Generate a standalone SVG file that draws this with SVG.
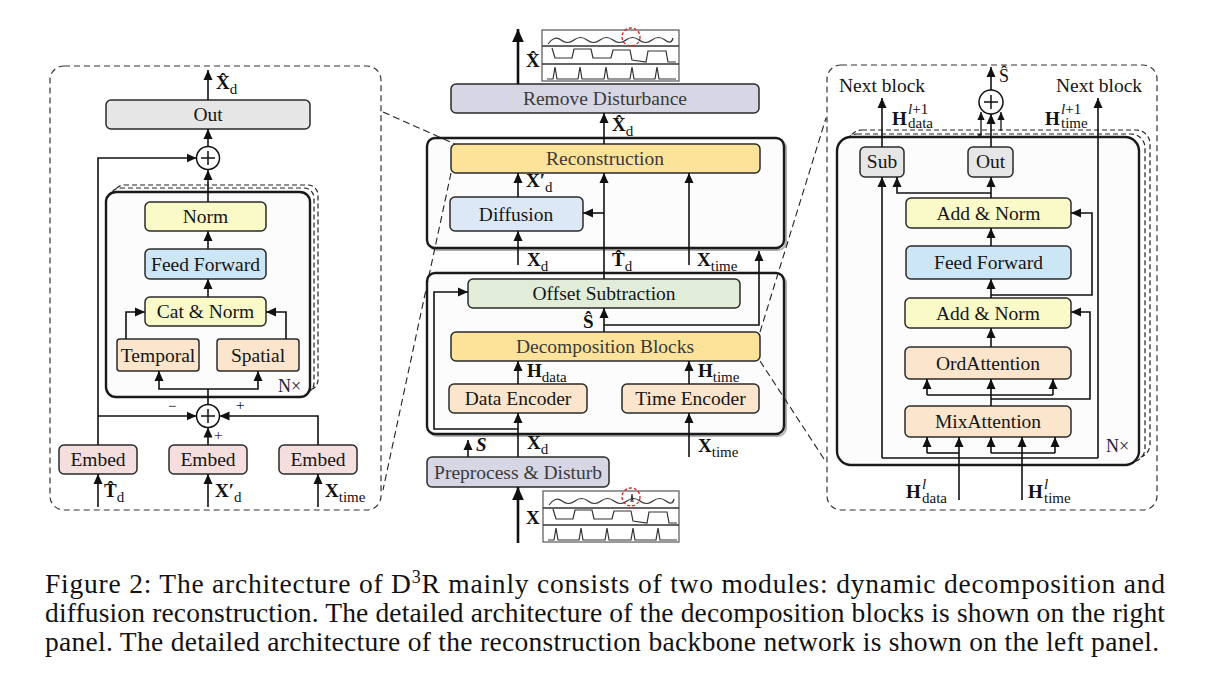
<svg xmlns="http://www.w3.org/2000/svg" width="1207" height="680" viewBox="0 0 1207 680">
<defs>
<marker id="ah" viewBox="0 0 10 10" refX="10" refY="5" markerWidth="10" markerHeight="10" markerUnits="userSpaceOnUse" orient="auto"><path d="M0,0.5 L10,5 L0,9.5 z" fill="#111"/></marker>
<marker id="ahb" viewBox="0 0 10 10" refX="10" refY="5" markerWidth="14" markerHeight="13" markerUnits="userSpaceOnUse" orient="auto"><path d="M0,0.5 L10,5 L0,9.5 z" fill="#111"/></marker>
<marker id="ahs" viewBox="0 0 10 10" refX="10" refY="5" markerWidth="8" markerHeight="8" markerUnits="userSpaceOnUse" orient="auto"><path d="M0,0.5 L10,5 L0,9.5 z" fill="#111"/></marker>
<style>
.frame{fill:none;stroke:#333;stroke-width:1.2;stroke-dasharray:6,4}
.blk{fill:#fcfcfc;stroke:#1a1a1a;stroke-width:2.4}
.shd{fill:none;stroke:#b0b0b0;stroke-width:2}
.stk{fill:none;stroke:#222;stroke-width:1.2;stroke-dasharray:5,3}
.box{stroke:#2a2a2a;stroke-width:1.5}
.gray{fill:#e6e6e6}.yel{fill:#fafac8}.blue{fill:#cde6f5}.peach{fill:#fbe5cc}.pink{fill:#f5dede}.lav{fill:#d6d6e4}.gold{fill:#fde39a}.lblue{fill:#dde8f6}.green{fill:#e1edd9}
.t{font-family:"Liberation Serif","Times New Roman",serif;font-size:19.5px;fill:#151515;text-anchor:middle}
.td{fill:#3a3a3a}
.m{font-family:"Liberation Serif","Times New Roman",serif;font-size:19px;fill:#111;font-weight:bold}
.s{font-size:15px;font-weight:normal}
.c{fill:none;stroke:#111;stroke-width:1.6}
.ca{fill:none;stroke:#111;stroke-width:1.6;marker-end:url(#ah)}
.cb{fill:none;stroke:#111;stroke-width:2.6;marker-end:url(#ahb)}
.cs{fill:none;stroke:#111;stroke-width:1.3;marker-end:url(#ahs)}
.dl{fill:none;stroke:#222;stroke-width:1.1;stroke-dasharray:7,4}
.op{fill:#fff;stroke:#111;stroke-width:1.5}
.wv{fill:none;stroke:#333;stroke-width:1.2}
.cap{font-family:"Liberation Serif","Times New Roman",serif;font-size:27.5px;fill:#111}
</style>
</defs>
<rect width="1207" height="680" fill="#fff"/>

<!-- LEFT PANEL -->
<g id="left-panel">
<rect class="frame" x="50" y="66" width="331" height="444" rx="14"/>
<rect class="stk" x="114" y="185" width="204" height="205" rx="10"/>
<rect class="stk" x="110" y="188" width="204" height="205" rx="10"/>
<rect class="blk" x="106" y="192" width="204" height="205" rx="10"/>
<text x="278" y="392" font-family="Liberation Serif, serif" font-size="18" fill="#1a1a3a">N×</text>
</g>
<g id="L-out"><rect class="box gray" x="106" y="100" width="204" height="29" rx="5"/><text class="t" x="208" y="121">Out</text></g>
<g id="L-plus1"><circle class="op" cx="208" cy="158" r="11.5"/><path d="M201,158 H215 M208,151 V165" stroke="#111" stroke-width="1.5"/></g>
<g id="L-norm"><rect class="box yel" x="145" y="202" width="121" height="29" rx="5"/><text class="t" x="205.5" y="223">Norm</text></g>
<g id="L-ff"><rect class="box blue" x="145" y="249" width="121" height="30" rx="5"/><text class="t" x="205.5" y="271">Feed Forward</text></g>
<g id="L-cat"><rect class="box yel" x="145" y="297" width="121" height="29" rx="5"/><text class="t" x="205.5" y="318">Cat &amp; Norm</text></g>
<g id="L-temporal"><rect class="box peach" x="117" y="339" width="82" height="32" rx="3"/><text class="t" x="158" y="362">Temporal</text></g>
<g id="L-spatial"><rect class="box peach" x="217" y="339" width="82" height="32" rx="3"/><text class="t" x="258" y="362">Spatial</text></g>
<g id="L-plus2"><circle class="op" cx="208" cy="416" r="11.5"/><path d="M201,416 H215 M208,409 V423" stroke="#111" stroke-width="1.5"/></g>
<g id="L-embed1"><rect class="box pink" x="59" y="445" width="78" height="29" rx="5"/><text class="t" x="98" y="466">Embed</text></g>
<g id="L-embed2"><rect class="box pink" x="169" y="445" width="78" height="29" rx="5"/><text class="t" x="208" y="466">Embed</text></g>
<g id="L-embed3"><rect class="box pink" x="279" y="445" width="78" height="29" rx="5"/><text class="t" x="318" y="466">Embed</text></g>

<!-- CENTER -->
<g id="C-wave-top">
<rect x="542" y="30" width="137" height="51" fill="#fff" stroke="#555" stroke-width="1.2"/>
<path d="M542,46 H679 M542,64 H679" stroke="#333" stroke-width="1.5"/>
<path class="wv" d="M548,44 q6.5,-9 13,-4 t13,0 t13,0 t13,0 t13,0 t13,0 t13,0 t13,0 t13,0 t8,-2"/>
<path class="wv" d="M552,48 L555,58 H572 L574,49 H591 L593,58 H611 L613,50 H630 L632,60 L646,62 L648,51 H666 L668,62 H676"/>
<path class="wv" d="M547,79 H553 L555,67 L557,79 H578 L580,67 L582,79 H604 L606,67 L608,79 H630 L632,67 L634,79 H655 L657,67 L659,79 H676"/>
<circle cx="631" cy="37" r="9" fill="none" stroke="#e02020" stroke-width="1.3" stroke-dasharray="3,2"/>
</g>
<g id="C-remove"><rect class="box lav" x="451" y="84" width="308" height="29" rx="5"/><text class="t td" x="605" y="105">Remove Disturbance</text></g>
<g id="C-recon-block">
<rect class="shd" x="429" y="140" width="357" height="110" rx="8"/>
<rect class="blk" x="427" y="138" width="357" height="110" rx="8"/>
</g>
<g id="C-reconstruction"><rect class="box gold" x="451" y="144" width="309" height="29" rx="5"/><text class="t td" x="605" y="165">Reconstruction</text></g>
<g id="C-diffusion"><rect class="box lblue" x="450" y="197" width="133" height="34" rx="5"/><text class="t" x="516" y="221">Diffusion</text></g>
<g id="C-decomp-block">
<rect class="shd" x="429" y="275" width="357" height="161" rx="8"/>
<rect class="blk" x="427" y="273" width="357" height="161" rx="8"/>
</g>
<g id="C-offset"><rect class="box green" x="468" y="279" width="272" height="29" rx="5"/><text class="t" x="604" y="300">Offset Subtraction</text></g>
<g id="C-decomposition"><rect class="box gold" x="451" y="332" width="309" height="29" rx="5"/><text class="t td" x="605" y="353">Decomposition Blocks</text></g>
<g id="C-data-enc"><rect class="box peach" x="449" y="384" width="138" height="29" rx="5"/><text class="t" x="518" y="405">Data Encoder</text></g>
<g id="C-time-enc"><rect class="box peach" x="622" y="384" width="137" height="29" rx="5"/><text class="t" x="690.5" y="405">Time Encoder</text></g>
<g id="C-preprocess"><rect class="box lav" x="427" y="457" width="182" height="30" rx="5"/><text class="t td" x="518" y="479">Preprocess &amp; Disturb</text></g>
<g id="C-wave-bottom">
<rect x="543" y="491" width="136" height="51" fill="#fff" stroke="#555" stroke-width="1.2"/>
<path d="M543,508 H679 M543,525 H679" stroke="#333" stroke-width="1.5"/>
<path class="wv" d="M549,505 q6.5,-9 13,-4 t13,0 t13,0 t13,0 t13,0 t13,0 t13,0 t13,0 t13,0 t8,-2"/>
<path class="wv" d="M631,502 L632,494 L633,502"/>
<path class="wv" d="M553,509 L556,519 H573 L575,510 H592 L594,519 H612 L614,511 H631 L633,521 L647,523 L649,512 H667 L669,523 H677"/>
<path class="wv" d="M548,540 H554 L556,528 L558,540 H579 L581,528 L583,540 H605 L607,528 L609,540 H631 L633,528 L635,540 H656 L658,528 L660,540 H677"/>
<circle cx="631" cy="497" r="9" fill="none" stroke="#e02020" stroke-width="1.3" stroke-dasharray="3,2"/>
</g>

<!-- RIGHT PANEL -->
<g id="right-panel">
<rect class="frame" x="827" y="65" width="330" height="445" rx="14"/>
<rect class="stk" x="848" y="130" width="302" height="328" rx="14"/>
<rect class="stk" x="843" y="134" width="302" height="328" rx="14"/>
<rect class="blk" x="837" y="137" width="302" height="328" rx="14"/>
<text x="1106" y="452" font-family="Liberation Serif, serif" font-size="18" fill="#1a1a3a">N×</text>
<text class="t" x="882" y="92">Next block</text>
<text class="t" x="1099" y="92">Next block</text>
</g>
<g id="R-plus"><circle class="op" cx="991" cy="102" r="12"/><path d="M984,102 H998 M991,95 V109" stroke="#111" stroke-width="1.5"/></g>
<g id="R-sub"><rect class="box gray" x="860" y="147" width="44" height="30" rx="5"/><text class="t" x="882" y="168">Sub</text></g>
<g id="R-out"><rect class="box gray" x="968" y="147" width="45" height="30" rx="5"/><text class="t" x="990.5" y="168">Out</text></g>
<g id="R-addnorm1"><rect class="box yel" x="906" y="198" width="165" height="30" rx="5"/><text class="t" x="988.5" y="220">Add &amp; Norm</text></g>
<g id="R-ff"><rect class="box blue" x="906" y="246" width="165" height="33" rx="5"/><text class="t" x="988.5" y="269">Feed Forward</text></g>
<g id="R-addnorm2"><rect class="box yel" x="905" y="298" width="166" height="30" rx="5"/><text class="t" x="988" y="320">Add &amp; Norm</text></g>
<g id="R-ord"><rect class="box peach" x="905" y="347" width="166" height="32" rx="5"/><text class="t" x="988" y="370">OrdAttention</text></g>
<g id="R-mix"><rect class="box peach" x="905" y="406" width="166" height="31" rx="5"/><text class="t" x="988" y="428">MixAttention</text></g>

<!-- CONNECTORS -->
<g id="connectors">
<path class="ca" d="M208,100 V70"/>
<path class="ca" d="M208,146.5 V129"/>
<path class="ca" d="M98,445 V158 H196.5"/>
<path class="ca" d="M208,202 V170"/>
<path class="ca" d="M208,249 V231"/>
<path class="ca" d="M208,297 V279"/>
<path class="ca" d="M126,339 V312 H145"/>
<path class="ca" d="M286,339 V312 H266"/>
<path class="c" d="M208,404.5 V389"/>
<path class="ca" d="M208,389 H159 V371"/>
<path class="ca" d="M208,389 H258 V371"/>
<path class="ca" d="M98,416 H196.5"/>
<path class="ca" d="M318,445 V416 H219.5"/>
<path class="ca" d="M208,445 V427.5"/>
<path class="ca" d="M98,507 V474"/>
<path class="ca" d="M208,507 V474"/>
<path class="ca" d="M318,507 V474"/>
<path class="cb" d="M518,84 V29"/>
<path class="ca" d="M604,144 V113"/>
<path class="ca" d="M518,197 V173"/>
<path class="ca" d="M604,279 V173"/>
<path class="ca" d="M604,213 H583"/>
<path class="ca" d="M518,265 V231"/>
<path class="ca" d="M689,265 V173"/>
<path class="ca" d="M604,332 V308"/>
<path class="ca" d="M604,325 H759 V251"/>
<path class="ca" d="M518,384 V361"/>
<path class="ca" d="M689,384 V361"/>
<path class="ca" d="M518,429 H434 V292 H468"/>
<path class="ca" d="M518,457 V413"/>
<path class="ca" d="M468,457 V440"/>
<path class="ca" d="M689,457 V413"/>
<path class="cb" d="M518,543 V487"/>
<path class="dl" d="M383,112 L455,144"/>
<path class="dl" d="M451,173 L383,490"/>
<path class="dl" d="M760,332 L826,118"/>
<path class="dl" d="M760,361 L826,462"/>
<path class="ca" d="M991,90 V67"/>
<path class="ca" d="M991,147 V114"/>
<path class="cs" d="M978,135 H981 V112"/>
<path class="cs" d="M1001,131 V112"/>
<path class="ca" d="M882,147 V98"/>
<path class="c" d="M882,458 H1098"/>
<path class="ca" d="M882,458 V177"/>
<path class="ca" d="M1098,458 V98"/>
<path class="ca" d="M991,198 V177"/>
<path class="ca" d="M991,193 H897 V177"/>
<path class="ca" d="M991,246 V228"/>
<path class="ca" d="M991,295 H1092 V213 H1071"/>
<path class="ca" d="M991,298 V279"/>
<path class="ca" d="M991,347 V328"/>
<path class="ca" d="M991,399 H1090 V312 H1071"/>
<path class="c" d="M991,406 V395 M927,395 H1053"/>
<path class="ca" d="M927,395 V379"/>
<path class="ca" d="M991,395 V379"/>
<path class="ca" d="M1053,395 V379"/>
<path class="ca" d="M959,500 V437"/>
<path class="ca" d="M927,453 V437"/>
<path class="c" d="M927,453 H959"/>
<path class="ca" d="M1022,500 V437"/>
<path class="c" d="M991,453 H1055"/>
<path class="ca" d="M991,453 V437"/>
<path class="ca" d="M1055,453 V437"/>
</g>

<!-- LABELS -->
<g id="labels">
<text class="m" x="216" y="89">X&#x302;<tspan class="s" dy="5">d</tspan></text>
<text class="m" x="104" y="497">T&#x302;<tspan class="s" dy="5">d</tspan></text>
<text class="m" x="215" y="497">X′<tspan class="s" dy="5">d</tspan></text>
<text class="m" x="325" y="497">X<tspan class="s" dy="5">time</tspan></text>
<text font-family="Liberation Serif, serif" font-size="15" fill="#111" x="168" y="411">−</text>
<text font-family="Liberation Serif, serif" font-size="15" fill="#111" x="236" y="410">+</text>
<text font-family="Liberation Serif, serif" font-size="15" fill="#3a1a4a" x="214" y="440">+</text>

<text class="m" x="526" y="67">X&#x302;</text>
<text class="m" x="612" y="131">X&#x302;<tspan class="s" dy="5">d</tspan></text>
<text class="m" x="526" y="187">X′<tspan class="s" dy="5">d</tspan></text>
<text class="m" x="527" y="266">X<tspan class="s" dy="5">d</tspan></text>
<text class="m" x="612" y="266">T&#x302;<tspan class="s" dy="5">d</tspan></text>
<text class="m" x="697" y="266">X<tspan class="s" dy="5">time</tspan></text>
<text class="m" x="583" y="328">Ŝ</text>
<text class="m" x="527" y="377">H<tspan class="s" dy="5">data</tspan></text>
<text class="m" x="698" y="377">H<tspan class="s" dy="5">time</tspan></text>
<text class="m" x="476" y="451" font-style="italic">S</text>
<text class="m" x="527" y="449">X<tspan class="s" dy="5">d</tspan></text>
<text class="m" x="698" y="452">X<tspan class="s" dy="5">time</tspan></text>
<text class="m" x="526" y="524">X</text>

<text x="999" y="82" font-family="Liberation Serif, serif" font-size="18" fill="#111">Ŝ</text>
<text class="m" x="892" y="125">H<tspan class="s" font-style="italic" x="908" y="114">l</tspan><tspan class="s" y="114">+1</tspan><tspan class="s" x="908" y="128">data</tspan></text>
<text class="m" x="1045" y="125">H<tspan class="s" font-style="italic" x="1061" y="114">l</tspan><tspan class="s" y="114">+1</tspan><tspan class="s" x="1061" y="128">time</tspan></text>
<text class="m" x="906" y="498">H<tspan class="s" font-style="italic" x="922" y="489">l</tspan><tspan class="s" x="922" y="503">data</tspan></text>
<text class="m" x="1028" y="498">H<tspan class="s" font-style="italic" x="1044" y="489">l</tspan><tspan class="s" x="1044" y="503">time</tspan></text>
</g>

<!-- CAPTION -->
<g id="caption">
<text class="cap" x="45" y="593" textLength="1120" lengthAdjust="spacing">Figure 2: The architecture of D<tspan dy="-10" font-size="18">3</tspan><tspan dy="10">R mainly consists of two modules: dynamic decomposition and</tspan></text>
<text class="cap" x="45" y="622" textLength="1120" lengthAdjust="spacing">diffusion reconstruction. The detailed architecture of the decomposition blocks is shown on the right</text>
<text class="cap" x="45" y="651" textLength="1114" lengthAdjust="spacing">panel. The detailed architecture of the reconstruction backbone network is shown on the left panel.</text>
</g>
</svg>
